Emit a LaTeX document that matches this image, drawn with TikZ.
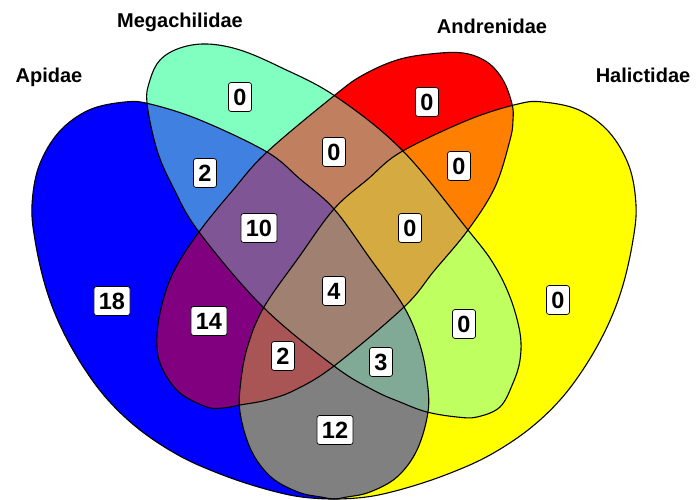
\documentclass[tikz,border=0pt]{standalone}
\usepackage{fontspec}
\setmainfont{Liberation Sans}
\definecolor{cA}{RGB}{0,0,255}
\definecolor{cM}{RGB}{128,255,192}
\definecolor{cN}{RGB}{255,0,0}
\definecolor{cH}{RGB}{255,255,0}
\definecolor{cAM}{RGB}{64,128,224}
\definecolor{cAN}{RGB}{128,0,128}
\definecolor{cAH}{RGB}{128,128,128}
\definecolor{cMN}{RGB}{192,128,96}
\definecolor{cMH}{RGB}{192,255,96}
\definecolor{cNH}{RGB}{255,128,0}
\definecolor{cAMN}{RGB}{128,85,149}
\definecolor{cAMH}{RGB}{128,170,149}
\definecolor{cANH}{RGB}{170,85,85}
\definecolor{cMNH}{RGB}{213,170,64}
\definecolor{cAMNH}{RGB}{160,128,112}
\begin{document}
\begin{tikzpicture}[x=1pt,y=-1pt,
  shapeA/.style={insert path={plot[smooth cycle, tension=0.6] coordinates {
    (32,205) (39,166) (59,132) (89,110) (125,102) (150,104) (200,120)
    (267,152) (300,179) (334,209) (369,257) (404,307) (420,345) (427,380) (428,412) (417,450)
    (397,477) (370,492) (347,497) (330,499) (295,496) (255,486) (215,472)
    (178,455) (140,430) (108,400) (82,365) (60,325) (45,285) (35,240)}}},
  shapeH/.style={insert path={plot[smooth cycle, tension=0.6] coordinates {
    (636,205) (629,166) (609,132) (579,110) (543,102) (518,104) (468,120)
    (401,152) (368,179) (334,209) (299,257) (264,307) (248,345) (241,380) (240,412) (251,450)
    (271,477) (298,492) (321,497) (338,499) (373,496) (413,486) (453,472)
    (490,455) (528,430) (560,400) (586,365) (608,325) (623,285) (633,240)}}},
  shapeM/.style={insert path={plot[smooth cycle, tension=0.6] coordinates {
    (147,103) (150,80) (160,60) (180,48) (207,44) (240,50) (280,67) (335,96)
    (402,150) (468,230) (493,263) (510,297) (520,333) (520,360) (513,383)
    (500,407) (477,417) (457,417) (427,412) (400,402) (373,390) (334,366)
    (263,307) (199,232) (173,187) (157,150)}}},
  shapeN/.style={insert path={plot[smooth cycle, tension=0.6] coordinates {
    (335,95) (363,75) (397,60) (430,54) (463,53) (487,62) (503,80) (512,104)
    (513,120) (510,140) (495,187) (468,230) (434,271) (404,307) (334,366)
    (295,390) (267,400) (240,405) (223,408) (207,407) (180,393) (163,370)
    (157,347) (160,313) (173,273) (199,232) (233,190) (267,152)}}},
  num/.style={draw=black, fill=white, rounded corners=2.5pt, line width=0.7pt,
    font=\fontsize{23.5}{24}\selectfont\bfseries, inner xsep=5pt, inner ysep=6pt,
    text height=16.9pt, text depth=0pt},
  ttl/.style={font=\fontsize{20}{24}\selectfont\bfseries, anchor=base},
  outline/.style={draw=black, line width=1.1pt}]
\useasboundingbox (0,0) rectangle (696,500);
% single sets
\fill[cA, shapeA];
\fill[cM, shapeM];
\fill[cN, shapeN];
\fill[cH, shapeH];
% pairs
\begin{scope}\clip[shapeA]; \fill[cAM, shapeM]; \end{scope}
\begin{scope}\clip[shapeA]; \fill[cAN, shapeN]; \end{scope}
\begin{scope}\clip[shapeA]; \fill[cAH, shapeH]; \end{scope}
\begin{scope}\clip[shapeM]; \fill[cMN, shapeN]; \end{scope}
\begin{scope}\clip[shapeM]; \fill[cMH, shapeH]; \end{scope}
\begin{scope}\clip[shapeN]; \fill[cNH, shapeH]; \end{scope}
% triples
\begin{scope}\clip[shapeA]; \clip[shapeM]; \fill[cAMN, shapeN]; \end{scope}
\begin{scope}\clip[shapeA]; \clip[shapeM]; \fill[cAMH, shapeH]; \end{scope}
\begin{scope}\clip[shapeA]; \clip[shapeN]; \fill[cANH, shapeH]; \end{scope}
\begin{scope}\clip[shapeM]; \clip[shapeN]; \fill[cMNH, shapeH]; \end{scope}
% all four
\begin{scope}\clip[shapeA]; \clip[shapeM]; \clip[shapeN]; \fill[cAMNH, shapeH]; \end{scope}
% outlines
\path[outline, shapeA];
\path[outline, shapeM];
\path[outline, shapeN];
\path[outline, shapeH];
% titles
\node[ttl] (tA) at (49,83) {Apidae};
\node[ttl] (tM) at (180,28) {Megachilidae};
\node[ttl] (tN) at (492,34) {Andrenidae};
\node[ttl] (tH) at (643,83) {Halictidae};
% counts
\node[num] (nA) at (112,301) {18};
\node[num] (nM) at (240,97) {0};
\node[num] (nN) at (427,102) {0};
\node[num] (nH) at (558,300) {0};
\node[num] (nAM) at (205,173) {2};
\node[num] (nMN) at (334,152) {0};
\node[num] (nNH) at (459,166) {0};
\node[num] (nAMN) at (259,228) {10};
\node[num] (nMNH) at (410,228) {0};
\node[num] (nAMNH) at (334,291) {4};
\node[num] (nAN) at (209,321) {14};
\node[num] (nMH) at (464,324) {0};
\node[num] (nANH) at (283,356) {2};
\node[num] (nAMH) at (381,362) {3};
\node[num] (nAH) at (335,430) {12};
\end{tikzpicture}
\end{document}
